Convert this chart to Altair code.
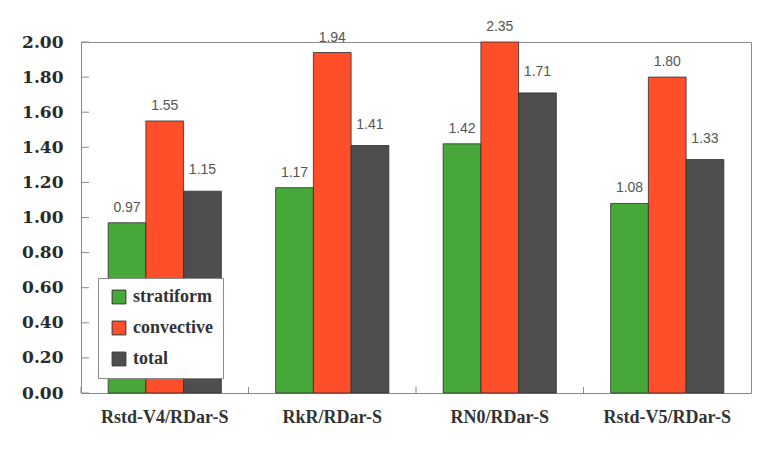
import altair as alt
import pandas as pd

# Ratios per experiment pair, split by rain type
groups = ["Rstd-V4/RDar-S", "RkR/RDar-S", "RN0/RDar-S", "Rstd-V5/RDar-S"]
series = ["stratiform", "convective", "total"]
stratiform = [0.97, 1.17, 1.42, 1.08]
convective = [1.55, 1.94, 2.35, 1.80]
total = [1.15, 1.41, 1.71, 1.33]
y_ticks = [0.0, 0.2, 0.4, 0.6, 0.8, 1.0, 1.2, 1.4, 1.6, 1.8, 2.0]
colors = ["#47a83a", "#ff4f2a", "#4e4e4e"]

rows = []
for i, g in enumerate(groups):
    for s, vals in zip(series, [stratiform, convective, total]):
        rows.append({"group": g, "series": s, "value": vals[i]})
df = pd.DataFrame(rows)
ticks_df = pd.DataFrame({"v": y_ticks})
groups_df = pd.DataFrame({"group": groups})

SERIF = "Liberation Serif"
W, H = 670, 351

x_scale = alt.Scale(paddingInner=0, paddingOuter=0)
x_axis = alt.Axis(title=None, labelAngle=0, ticks=False, domain=False, grid=False,
                  labelFont=SERIF, labelFontWeight="bold", labelFontSize=18,
                  labelColor="#333333", labelPadding=15)
y_scale = alt.Scale(domain=[0, 2], nice=False, clamp=True)
y_axis = alt.Axis(title=None, values=y_ticks, format=".2f", grid=False,
                  ticks=False, domain=False, labelOverlap=False,
                  labelFont="DejaVu Serif", labelFontWeight="bold", labelFontSize=17,
                  labelColor="#2a2a2a", labelPadding=18)
xo_enc = alt.XOffset("series:N", sort=series,
                     scale=alt.Scale(paddingInner=0, paddingOuter=0.72))

bars = alt.Chart(df).mark_bar(stroke="#2e2e2e", strokeWidth=0.8, opacity=1).encode(
    x=alt.X("group:N", sort=groups, scale=x_scale, axis=x_axis),
    xOffset=xo_enc,
    y=alt.Y("value:Q", scale=y_scale, axis=y_axis),
    color=alt.Color("series:N", sort=series,
                    scale=alt.Scale(domain=series, range=colors),
                    legend=alt.Legend(title=None, orient="none", legendX=17, legendY=236,
                                      fillColor="white", strokeColor="#8a8a8a",
                                      padding=10, rowPadding=13, symbolType="square",
                                      symbolSize=190, symbolOpacity=1,
                                      symbolStrokeColor="#333333", symbolStrokeWidth=1,
                                      symbolOffset=2, labelOffset=5,
                                      labelFont=SERIF, labelFontWeight="bold",
                                      labelFontSize=18, labelColor="#333333")),
)

def value_labels(names, dy):
    return alt.Chart(df).transform_filter(
        alt.FieldOneOfPredicate(field="series", oneOf=names)
    ).mark_text(dy=dy, baseline="middle", fontSize=14, color="#555555").encode(
        x=alt.X("group:N", sort=groups, scale=x_scale, axis=x_axis),
        xOffset=xo_enc,
        y=alt.Y("value:Q", scale=y_scale, axis=y_axis),
        text=alt.Text("value:Q", format=".2f"),
    )

labels_sc = value_labels(["stratiform", "convective"], -15)
labels_t = value_labels(["total"], -21)

# inward tick marks on the left frame
y_tick_marks = alt.Chart(ticks_df).mark_rule(color="#8a8a8a", strokeWidth=1).encode(
    y=alt.Y("v:Q", scale=y_scale, axis=y_axis),
    x=alt.value(0),
    x2=alt.value(8),
)

# inward tick marks on the bottom frame between groups
x_tick_marks = alt.Chart(groups_df).mark_rule(color="#8a8a8a", strokeWidth=1).encode(
    x=alt.X("group:N", sort=groups, bandPosition=0, scale=x_scale, axis=x_axis),
    y=alt.value(H - 6),
    y2=alt.value(H),
)

chart = alt.layer(bars, labels_sc, labels_t, y_tick_marks, x_tick_marks).properties(
    width=W, height=H,
    autosize=alt.AutoSizeParams(type="none"),
    padding={"left": 81, "top": 42, "right": 23, "bottom": 57},
    background="white",
).configure(
    font=SERIF
).configure_text(
    font="Liberation Sans"
).configure_view(
    stroke="#8a8a8a", strokeWidth=1
)

chart.save("out.html", embed_options={"renderer": "svg", "actions": False})
